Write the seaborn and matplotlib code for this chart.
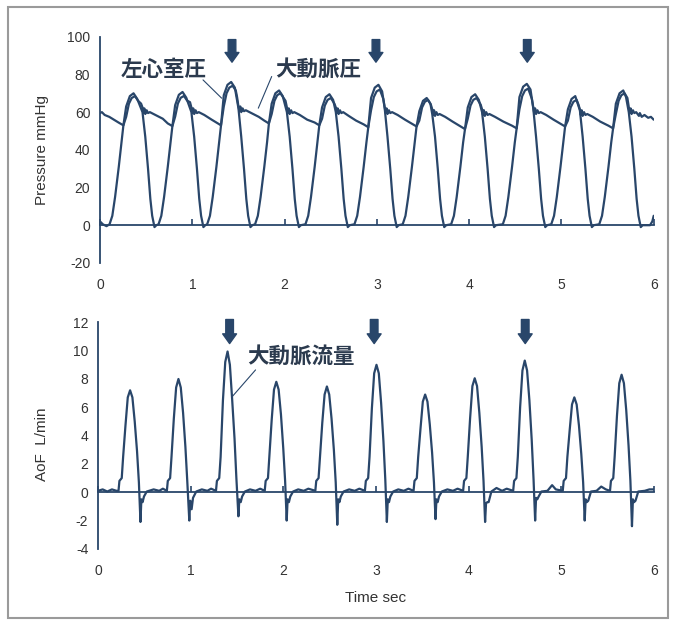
import numpy as np
import pandas as pd
import seaborn as sns
import matplotlib
matplotlib.use("Agg")
import matplotlib.pyplot as plt
from matplotlib.patches import Rectangle

# --- values (time in s) ---
# left ventricular pressure, mmHg
lv_pts = [
    (0.00, 2), (0.03, 0.5), (0.07, -0.5),
    (0.103, 0.5), (0.133, 5), (0.163, 15), (0.203, 31), (0.233, 44), (0.253, 53), (0.283, 63), (0.323, 68.5), (0.363, 70), (0.403, 67), (0.46, 60), (0.49, 47), (0.52, 30), (0.545, 14), (0.565, 5), (0.59, -1), (0.61, 0),
    (0.634, 0.5), (0.664, 5), (0.694, 15), (0.734, 31), (0.764, 44), (0.784, 52.6), (0.814, 63.7), (0.854, 69.2), (0.894, 70.7), (0.934, 67.7), (0.99, 60), (1.02, 47), (1.05, 30), (1.075, 14), (1.095, 5), (1.12, -1), (1.14, 0),
    (1.161, 0.5), (1.191, 5), (1.221, 15), (1.261, 31), (1.291, 44), (1.311, 53), (1.341, 69), (1.381, 74.5), (1.421, 76), (1.461, 73), (1.50, 62), (1.53, 47), (1.56, 30), (1.585, 14), (1.605, 5), (1.63, -1), (1.65, 0),
    (1.68, 0.5), (1.71, 5), (1.74, 15), (1.78, 31), (1.81, 44), (1.83, 54), (1.86, 64.5), (1.90, 70), (1.94, 71.5), (1.98, 68.5), (2.025, 60), (2.055, 47), (2.085, 30), (2.11, 14), (2.13, 5), (2.155, -1), (2.175, 0),
    (2.226, 0.5), (2.256, 5), (2.286, 15), (2.326, 31), (2.356, 44), (2.376, 53), (2.406, 62.5), (2.446, 68), (2.486, 69.5), (2.526, 66.5), (2.555, 60), (2.585, 47), (2.615, 30), (2.64, 14), (2.66, 5), (2.685, -1), (2.705, 0),
    (2.757, 0.5), (2.787, 5), (2.817, 15), (2.857, 31), (2.887, 44), (2.907, 52), (2.937, 67.5), (2.977, 73), (3.017, 74.5), (3.057, 71), (3.085, 62), (3.115, 47), (3.145, 30), (3.17, 14), (3.19, 5), (3.215, -1), (3.235, 0),
    (3.28, 0.5), (3.31, 5), (3.34, 15), (3.38, 31), (3.41, 44), (3.43, 52.4), (3.46, 60.5), (3.50, 66), (3.54, 67.5), (3.58, 64.5), (3.60, 59), (3.63, 47), (3.66, 30), (3.685, 14), (3.705, 5), (3.73, -1), (3.75, 0),
    (3.805, 0.5), (3.835, 5), (3.865, 15), (3.905, 31), (3.935, 44), (3.955, 51), (3.985, 62.5), (4.025, 68), (4.065, 69.5), (4.105, 66.5), (4.14, 60), (4.17, 47), (4.20, 30), (4.225, 14), (4.245, 5), (4.27, -1), (4.29, 0),
    (4.365, 0.5), (4.395, 5), (4.425, 15), (4.465, 31), (4.495, 44), (4.515, 51.4), (4.545, 68), (4.585, 73.5), (4.625, 75), (4.665, 72), (4.695, 62), (4.725, 47), (4.755, 30), (4.78, 14), (4.80, 5), (4.825, -1), (4.845, 0),
    (4.89, 0.5), (4.92, 5), (4.95, 15), (4.99, 31), (5.02, 44), (5.04, 52.4), (5.07, 61.5), (5.11, 67), (5.15, 68.5), (5.20, 61), (5.23, 47), (5.26, 30), (5.285, 14), (5.305, 5), (5.33, -1), (5.35, 0),
    (5.41, 0.5), (5.44, 5), (5.47, 15), (5.51, 31), (5.54, 44), (5.56, 51.4), (5.59, 64.5), (5.63, 70), (5.67, 71.5), (5.70, 68), (5.73, 60), (5.76, 47), (5.79, 30), (5.815, 14), (5.835, 5), (5.86, -1), (5.88, 0), (5.96, 0), (5.985, 2), (6.0, 5),
]

# aortic pressure, mmHg
ao_pts = [
    (0.00, 59.5), (0.02, 60), (0.05, 58.5), (0.10, 57.5), (0.15, 56), (0.20, 54.5),
    (0.253, 53), (0.283, 57.5), (0.313, 64.5), (0.343, 67.5), (0.378, 68.5), (0.413, 66), (0.445, 64.5), (0.46, 62.5), (0.47, 59.5), (0.48, 62), (0.49, 59), (0.505, 61), (0.52, 59.5), (0.54, 60), (0.60, 58.5), (0.68, 56.5), (0.734, 54),
    (0.784, 52.6), (0.814, 57.6), (0.844, 64.6), (0.874, 67.6), (0.909, 68.6), (0.944, 66.1), (0.975, 65.3), (0.99, 62.5), (1.00, 59.5), (1.01, 62), (1.02, 59), (1.035, 61), (1.05, 59.5), (1.07, 60), (1.13, 58.5), (1.21, 56), (1.261, 54.5),
    (1.311, 53), (1.341, 63), (1.371, 70), (1.401, 73), (1.436, 74), (1.471, 71.5), (1.485, 68), (1.50, 63), (1.51, 60.5), (1.52, 63), (1.53, 60), (1.545, 62), (1.56, 60.5), (1.58, 61), (1.64, 59.5), (1.72, 57.5), (1.78, 55.5),
    (1.83, 54), (1.86, 59), (1.89, 66), (1.92, 69), (1.955, 70), (1.99, 67.5), (2.01, 66), (2.025, 62.5), (2.035, 59.5), (2.045, 62), (2.055, 59), (2.07, 61), (2.085, 59.5), (2.105, 60), (2.165, 58.5), (2.245, 56), (2.326, 54.5),
    (2.376, 53), (2.406, 56.5), (2.436, 63.5), (2.466, 66.5), (2.501, 67.5), (2.54, 64.5), (2.555, 62.5), (2.565, 59.5), (2.575, 62), (2.585, 59), (2.60, 61), (2.615, 59.5), (2.635, 60), (2.695, 58), (2.775, 55.5), (2.857, 53.5),
    (2.907, 52), (2.937, 61), (2.967, 68), (2.997, 71), (3.032, 72), (3.07, 67), (3.085, 62.5), (3.095, 59.5), (3.105, 62), (3.115, 59), (3.13, 61), (3.145, 59.5), (3.165, 60), (3.225, 58.5), (3.305, 56), (3.38, 53.8),
    (3.43, 52.4), (3.46, 55.5), (3.49, 62.5), (3.52, 65.5), (3.555, 66.5), (3.585, 64), (3.60, 61.5), (3.61, 58.5), (3.62, 61), (3.63, 58), (3.645, 60), (3.66, 58.5), (3.68, 59), (3.74, 57.5), (3.82, 55), (3.905, 52.5),
    (3.955, 51), (3.985, 56.5), (4.015, 63.5), (4.045, 66.5), (4.08, 67.5), (4.125, 64), (4.14, 61.5), (4.15, 58.5), (4.16, 61), (4.17, 58), (4.185, 60), (4.20, 58.5), (4.22, 59), (4.28, 57.5), (4.37, 55), (4.465, 52.8),
    (4.515, 51.4), (4.545, 61.5), (4.575, 68.5), (4.605, 71.5), (4.64, 72.5), (4.68, 67), (4.695, 62.5), (4.705, 59.5), (4.715, 62), (4.725, 59), (4.74, 61), (4.755, 59.5), (4.775, 60), (4.835, 58.5), (4.915, 56), (4.99, 53.8),
    (5.04, 52.4), (5.07, 55.5), (5.10, 62.5), (5.13, 65.5), (5.165, 66.5), (5.185, 64), (5.20, 61.5), (5.21, 58.5), (5.22, 61), (5.23, 58), (5.245, 60), (5.26, 58.5), (5.28, 59), (5.34, 57.5), (5.42, 55), (5.51, 52.8),
    (5.56, 51.4), (5.59, 59), (5.62, 66), (5.65, 69), (5.685, 70), (5.715, 67.5), (5.73, 62.5), (5.74, 59.5), (5.75, 62), (5.76, 59), (5.775, 61), (5.79, 59.5), (5.81, 60), (5.84, 58), (5.85, 59.5), (5.87, 57.5), (5.90, 58.5), (5.94, 57), (5.97, 57.5), (6.0, 56),
]

# aortic flow, L/min
flow_pts = [
    (0.00, 0.1), (0.05, 0.2), (0.10, 0.05), (0.15, 0.2), (0.20, 0.1),
    (0.221, 0.1), (0.231, 0.8), (0.256, 1.0), (0.271, 2.5), (0.296, 4.7), (0.321, 6.7), (0.346, 7.2), (0.371, 6.7), (0.396, 5.0), (0.421, 2.9), (0.441, 0.7), (0.458, -2.1), (0.468, -0.5), (0.481, -0.7), (0.496, -0.3), (0.526, 0.05),
    (0.60, 0.2), (0.66, 0.1), (0.70, 0.25),
    (0.743, 0.1), (0.753, 0.8), (0.778, 1.0), (0.793, 2.5), (0.818, 5.2), (0.843, 7.4), (0.868, 8.0), (0.893, 7.4), (0.918, 5.6), (0.943, 3.2), (0.963, 0.8), (0.985, -2.0), (0.995, -0.6), (1.01, -1.2), (1.025, -0.4), (1.06, 0.05),
    (1.12, 0.2), (1.18, 0.1), (1.22, 0.25),
    (1.273, 0.1), (1.283, 0.8), (1.308, 1.0), (1.323, 2.5), (1.348, 6.5), (1.373, 9.2), (1.398, 9.94), (1.423, 9.0), (1.448, 6.5), (1.473, 3.8), (1.493, 1.0), (1.515, -1.7), (1.525, -0.5), (1.54, -0.7), (1.555, -0.3), (1.585, 0.05),
    (1.64, 0.2), (1.70, 0.1), (1.75, 0.25),
    (1.799, 0.1), (1.809, 0.8), (1.834, 1.0), (1.849, 2.5), (1.874, 5.1), (1.899, 7.25), (1.924, 7.8), (1.949, 7.25), (1.974, 5.5), (1.999, 3.1), (2.019, 0.8), (2.036, -2.0), (2.046, -0.5), (2.06, -0.7), (2.075, -0.3), (2.105, 0.05),
    (2.16, 0.2), (2.22, 0.1), (2.27, 0.25),
    (2.345, 0.1), (2.355, 0.8), (2.38, 1.0), (2.395, 2.5), (2.42, 4.9), (2.445, 6.9), (2.47, 7.47), (2.495, 6.9), (2.52, 5.2), (2.545, 3.0), (2.565, 0.7), (2.582, -2.3), (2.592, -0.5), (2.605, -0.7), (2.62, -0.3), (2.65, 0.05),
    (2.71, 0.2), (2.77, 0.1), (2.82, 0.25),
    (2.88, 0.1), (2.89, 0.8), (2.915, 1.0), (2.93, 2.5), (2.955, 5.9), (2.98, 8.4), (3.005, 9.0), (3.03, 8.4), (3.055, 6.3), (3.08, 3.6), (3.10, 0.9), (3.117, -2.1), (3.127, -0.5), (3.14, -0.7), (3.155, -0.3), (3.185, 0.05),
    (3.24, 0.2), (3.30, 0.1), (3.35, 0.25),
    (3.405, 0.1), (3.415, 0.8), (3.44, 1.0), (3.455, 2.5), (3.48, 4.5), (3.505, 6.4), (3.53, 6.9), (3.555, 6.4), (3.58, 4.8), (3.605, 2.8), (3.625, 0.7), (3.642, -1.9), (3.652, -0.5), (3.665, -0.7), (3.68, -0.3), (3.71, 0.05),
    (3.77, 0.2), (3.83, 0.1), (3.88, 0.25),
    (3.94, 0.1), (3.95, 0.8), (3.975, 1.0), (3.99, 2.5), (4.015, 5.2), (4.04, 7.5), (4.065, 8.05), (4.09, 7.5), (4.115, 5.6), (4.14, 3.2), (4.16, 0.8), (4.177, -2.1), (4.187, -0.8), (4.20, -0.7), (4.215, -0.7), (4.245, 0.05),
    (4.30, 0.3), (4.36, 0.1), (4.41, 0.25),
    (4.48, 0.1), (4.49, 0.8), (4.515, 1.0), (4.53, 2.5), (4.555, 6.0), (4.58, 8.6), (4.605, 9.3), (4.63, 8.6), (4.655, 6.5), (4.68, 3.7), (4.70, 0.9), (4.717, -2.0), (4.727, -0.4), (4.74, -0.5), (4.755, -0.3), (4.785, 0.05),
    (4.85, 0.1), (4.90, 0.5), (4.94, 0.2),
    (5.015, 0.1), (5.025, 0.8), (5.05, 1.0), (5.065, 2.5), (5.09, 4.4), (5.115, 6.2), (5.14, 6.7), (5.165, 6.2), (5.19, 4.7), (5.215, 2.7), (5.235, 0.7), (5.252, -2.0), (5.262, -0.5), (5.275, -0.7), (5.29, -0.6), (5.32, 0.05),
    (5.38, 0.1), (5.43, 0.4), (5.48, 0.2),
    (5.525, 0.1), (5.535, 0.8), (5.56, 1.0), (5.575, 2.5), (5.60, 5.4), (5.625, 7.7), (5.65, 8.3), (5.675, 7.7), (5.70, 5.8), (5.725, 3.3), (5.745, 0.8), (5.762, -2.4), (5.772, -0.5), (5.785, -0.7), (5.80, -0.6), (5.83, 0.05),
    (5.90, 0.1), (5.95, 0.2), (6.0, 0.2),
]

# arrows marking the larger beats
arrow_t_top = [1.43, 2.99, 4.63]
arrow_t_bottom = [1.42, 2.98, 4.61]

time_ticks = [0, 1, 2, 3, 4, 5, 6]
pressure_ticks = [-20, 0, 20, 40, 60, 80, 100]
flow_ticks = [-4, -2, 0, 2, 4, 6, 8, 10, 12]

lv = pd.DataFrame(lv_pts, columns=["t", "p"])
ao = pd.DataFrame(ao_pts, columns=["t", "p"])
flow = pd.DataFrame(flow_pts, columns=["t", "f"])

LINE = "#29466a"
TEXT = "#333333"
JP = ["Noto Sans CJK JP", "DejaVu Sans"]

sns.set_style("white")
plt.rcParams["font.family"] = ["Liberation Sans", "Noto Sans CJK JP", "DejaVu Sans"]
plt.rcParams["axes.unicode_minus"] = False

fig = plt.figure(figsize=(6.76, 6.23), dpi=100)
ax1 = fig.add_axes([0.148, 0.578, 0.819, 0.363])
ax2 = fig.add_axes([0.145, 0.119, 0.8225, 0.3636])

sns.lineplot(data=ao, x="t", y="p", ax=ax1, color=LINE, lw=1.6, sort=False, estimator=None)
sns.lineplot(data=lv, x="t", y="p", ax=ax1, color=LINE, lw=1.6, sort=False, estimator=None)
sns.lineplot(data=flow, x="t", y="f", ax=ax2, color=LINE, lw=1.6, sort=False, estimator=None)


def style_axis(ax, ylim, yticks, zero_frac):
    ax.set_xlim(0, 6)
    ax.set_ylim(*ylim)
    ax.set_xticks(time_ticks)
    ax.set_yticks(yticks)
    for s in ["top", "right", "bottom"]:
        ax.spines[s].set_visible(False)
    ax.spines["left"].set_color(LINE)
    ax.spines["left"].set_linewidth(1.3)
    ax.tick_params(axis="x", length=0, pad=11, labelsize=10, labelcolor=TEXT)
    ax.tick_params(axis="y", direction="in", length=4, width=1.2, color=LINE,
                   pad=7, labelsize=10, labelcolor=TEXT)
    # Excel-like category axis crossing at zero
    sec = ax.secondary_xaxis(zero_frac)
    sec.set_xticks(time_ticks)
    sec.spines["bottom"].set_color(LINE)
    sec.spines["bottom"].set_linewidth(1.3)
    sec.tick_params(direction="in", length=4, width=1.2, color=LINE, labelbottom=False)
    ax.set_xlabel("")
    ax.set_ylabel("")


style_axis(ax1, (-20, 100), pressure_ticks, 20 / 120)
style_axis(ax2, (-4, 12), flow_ticks, 4 / 16)

ax1.set_ylabel("Pressure mmHg", fontsize=11, color=TEXT)
ax1.yaxis.set_label_coords(-0.092, 0.5)
ax2.set_ylabel("AoF  L/min", fontsize=11, color=TEXT)
ax2.yaxis.set_label_coords(-0.088, 0.46)
ax2.set_xlabel("Time sec", fontsize=11, color=TEXT, labelpad=9)

arrow_kw = dict(arrowstyle="simple,head_length=0.7,head_width=1.0,tail_width=0.55",
                color=LINE, shrinkA=0, shrinkB=0, mutation_scale=10)
for t in arrow_t_top:
    ax1.annotate("", xy=(t, 86.5), xytext=(t, 98.5), arrowprops=arrow_kw, annotation_clip=False)
for t in arrow_t_bottom:
    ax2.annotate("", xy=(t, 10.5), xytext=(t, 12.2), arrowprops=arrow_kw, annotation_clip=False)

line_kw = dict(arrowstyle="-", color=LINE, lw=0.8, shrinkA=0, shrinkB=0)
ax1.annotate("", xy=(1.318, 67.4), xytext=(1.116, 77.1), arrowprops=line_kw)
ax1.annotate("", xy=(1.715, 62.1), xytext=(1.86, 78.9), arrowprops=line_kw)
ax2.annotate("", xy=(1.449, 6.76), xytext=(1.70, 8.64), arrowprops=line_kw)

jp_kw = dict(fontsize=15.5, family=JP, fontweight="bold", color="#2b3a4e", va="center", ha="left")
ax1.text(0.22, 82.5, "左心室圧", **jp_kw)
ax1.text(1.896, 82.5, "大動脈圧", **jp_kw)
ax2.text(1.614, 9.63, "大動脈流量", **jp_kw)

fig.patches.append(Rectangle((0.012, 0.008), 0.976, 0.98, transform=fig.transFigure,
                             fill=False, ec="#9a9a9a", lw=1.5))

fig.savefig("out.png", dpi=100)
